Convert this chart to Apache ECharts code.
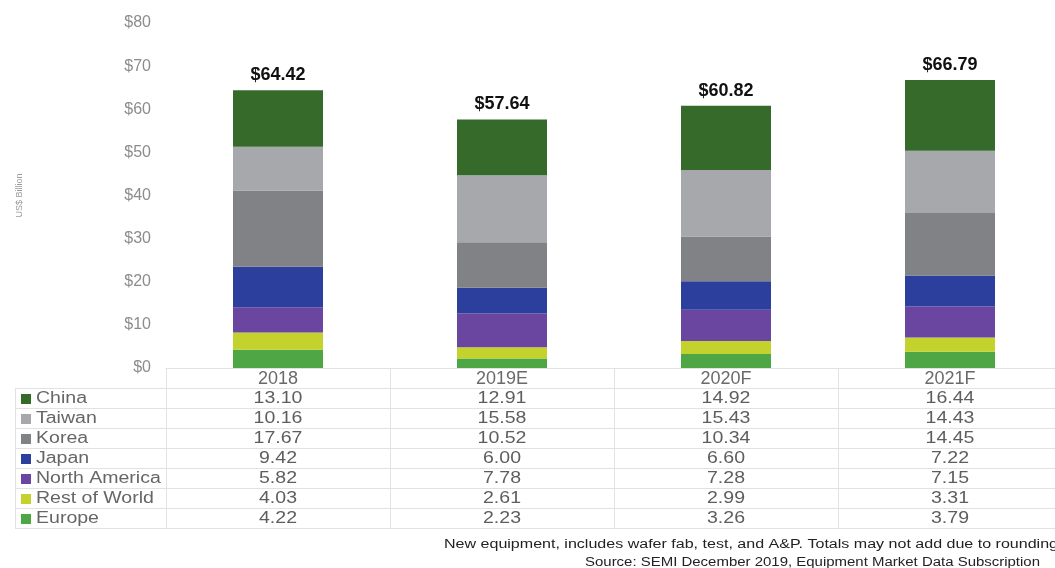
<!DOCTYPE html>
<html><head><meta charset="utf-8">
<script src="https://cdn.jsdelivr.net/npm/echarts@6/dist/echarts.min.js"></script>
<style>html,body{margin:0;padding:0;background:#fff}#c{width:1055px;height:568px}</style>
</head><body><div id="c"></div>
<script>
// ---- data ----
const categories = ['2018', '2019E', '2020F', '2021F'];
const seriesNames = ['China', 'Taiwan', 'Korea', 'Japan', 'North America', 'Rest of World', 'Europe'];
const china = [13.10, 12.91, 14.92, 16.44];
const taiwan = [10.16, 15.58, 15.43, 14.43];
const korea = [17.67, 10.52, 10.34, 14.45];
const japan = [9.42, 6.00, 6.60, 7.22];
const northAmerica = [5.82, 7.78, 7.28, 7.15];
const restOfWorld = [4.03, 2.61, 2.99, 3.31];
const europe = [4.22, 2.23, 3.26, 3.79];
const totals = [64.42, 57.64, 60.82, 66.79];
const yMin = 0, yMax = 80, yStep = 10;
const yAxisTitle = 'US$ Billion';
const footnote1 = 'New equipment, includes wafer fab, test, and A&P. Totals may not add due to rounding';
const footnote2 = 'Source: SEMI December 2019, Equipment Market Data Subscription';

// ---- styles ----
const colors = {
  'China': '#356a2b',
  'Taiwan': '#a6a8ab',
  'Korea': '#808285',
  'Japan': '#2c3f9c',
  'North America': '#6a46a1',
  'Rest of World': '#c4d22d',
  'Europe': '#4fa645'
};
const valuesByName = {
  'China': china, 'Taiwan': taiwan, 'Korea': korea, 'Japan': japan,
  'North America': northAmerica, 'Rest of World': restOfWorld, 'Europe': europe
};
const FONT = '"Liberation Sans", Arial, sans-serif';
const GRID = { left: 166, top: 23, width: 896, height: 345, outerBoundsMode: 'none', containLabel: false };

const chart = echarts.init(document.getElementById('c'), null, { renderer: 'canvas' });

// stack bottom-up: Europe first
const stackOrder = seriesNames.slice().reverse();
const series = stackOrder.map(name => {
  const s = {
    name: name,
    type: 'bar',
    stack: 'total',
    barWidth: 90,
    data: valuesByName[name],
    itemStyle: { color: colors[name] },
    emphasis: { disabled: true },
    animation: false
  };
  if (name === 'China') {
    s.label = {
      show: true,
      position: 'top',
      distance: 6,
      formatter: p => '$' + totals[p.dataIndex].toFixed(2),
      fontFamily: FONT,
      fontWeight: 'bold',
      fontSize: 18,
      color: '#111'
    };
  }
  return s;
});

chart.setOption({
  animation: false,
  grid: GRID,
  legend: { show: false },
  xAxis: {
    type: 'category',
    data: categories,
    axisLine: { show: true, lineStyle: { color: '#e2e2e2', width: 1 } },
    axisTick: { show: false },
    axisLabel: { color: '#6a6a6a', fontSize: 18, fontFamily: FONT, margin: 2 }
  },
  yAxis: {
    type: 'value',
    min: yMin, max: yMax, interval: yStep,
    name: yAxisTitle,
    nameLocation: 'middle',
    nameRotate: 90,
    nameGap: 142,
    nameTextStyle: { color: '#9a9a9a', fontSize: 9, fontFamily: FONT },
    axisLine: { show: false },
    axisTick: { show: false },
    splitLine: { show: false },
    axisLabel: { formatter: v => '$' + v, color: '#8c8c8c', fontSize: 16, fontFamily: FONT, margin: 15 }
  },
  series: series
});

// ---- data table built from the axes ----
const xs = categories.map(c => chart.convertToPixel({ xAxisIndex: 0 }, c));
const y0 = chart.convertToPixel({ yAxisIndex: 0 }, 0);
const rowH = 20;
const colW = xs.length > 1 ? xs[1] - xs[0] : 224;
const tableLeft = 15;
const rightEdge = 1055;
const SX = 1.22;
const lineColor = '#e2e2e2';
const g = [];

// horizontal lines
for (let k = 1; k <= seriesNames.length + 1; k++) {
  const y = Math.round(y0 + k * rowH) + 0.5;
  g.push({ type: 'line', silent: true, shape: { x1: tableLeft, y1: y, x2: rightEdge, y2: y }, style: { stroke: lineColor, lineWidth: 1 } });
}
// vertical lines
const bottomY = y0 + (seriesNames.length + 1) * rowH;
g.push({ type: 'line', silent: true, shape: { x1: tableLeft + 0.5, y1: y0 + rowH, x2: tableLeft + 0.5, y2: bottomY }, style: { stroke: lineColor, lineWidth: 1 } });
for (let k = 0; k < categories.length; k++) {
  const x = Math.round(xs[k] - colW / 2) + 0.5;
  g.push({ type: 'line', silent: true, shape: { x1: x, y1: y0, x2: x, y2: bottomY }, style: { stroke: lineColor, lineWidth: 1 } });
}
// rows
seriesNames.forEach((name, i) => {
  const cy = y0 + rowH * (i + 1) + rowH / 2 + 1;
  g.push({ type: 'rect', silent: true, shape: { x: 21, y: cy - 5, width: 10, height: 10 }, style: { fill: colors[name] } });
  g.push({
    type: 'text', silent: true, x: 36, y: cy, scaleX: SX,
    style: { text: name, x: 0, y: 0, textAlign: 'left', textVerticalAlign: 'middle', font: '16px ' + FONT, fill: '#666' }
  });
  valuesByName[name].forEach((v, j) => {
    g.push({
      type: 'text', silent: true, x: xs[j], y: cy, scaleX: SX,
      style: { text: v.toFixed(2), x: 0, y: 0, textAlign: 'center', textVerticalAlign: 'middle', font: '16px ' + FONT, fill: '#5e5e5e' }
    });
  });
});

// footnotes, stretched to match width
const ctx = document.createElement('canvas').getContext('2d');
const footFont = '12px ' + FONT;
ctx.font = footFont;
function footText(text, rightX, cy, targetW) {
  const w = ctx.measureText(text).width || 1;
  g.push({
    type: 'text', silent: true, x: rightX, y: cy, scaleX: targetW / w,
    style: { text: text, x: 0, y: 0, textAlign: 'right', textVerticalAlign: 'middle', font: footFont, fill: '#222' }
  });
}
footText(footnote1, 1058, 545, 614);
footText(footnote2, 1040, 563, 455);

chart.setOption({ graphic: g });
</script>
</body></html>
